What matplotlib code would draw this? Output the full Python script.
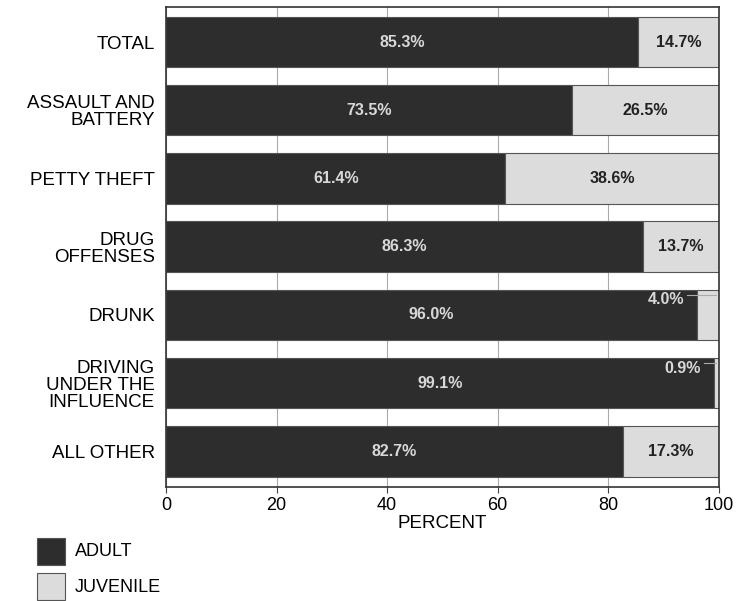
import matplotlib.pyplot as plt
import numpy as np

plt.rcParams['font.family'] = ['Liberation Sans', 'DejaVu Sans']

categories = ['TOTAL', 'ASSAULT AND\nBATTERY', 'PETTY THEFT', 'DRUG\nOFFENSES',
              'DRUNK', 'DRIVING\nUNDER THE\nINFLUENCE', 'ALL OTHER']
adult = [85.3, 73.5, 61.4, 86.3, 96.0, 99.1, 82.7]
juvenile = [14.7, 26.5, 38.6, 13.7, 4.0, 0.9, 17.3]
xticks = [0, 20, 40, 60, 80, 100]

dark = '#2d2d2d'
light = '#dcdcdc'

fig = plt.figure(figsize=(7.52, 6.01), dpi=100)
ax = fig.add_axes([0.2207, 0.190, 0.7353, 0.798])

y = np.arange(len(categories))
h = 0.74
ax.barh(y, adult, height=h, color=dark, edgecolor='#555555', linewidth=0.8, zorder=2)
ax.barh(y, juvenile, left=adult, height=h, color=light, edgecolor='#555555',
        linewidth=0.8, zorder=2)

for i, (a, j) in enumerate(zip(adult, juvenile)):
    ax.text(a / 2, i, f'{a:.1f}%', color='#d8d8d8', ha='center', va='center',
            fontsize=11.5, fontweight='bold', zorder=3)
    if j >= 10:
        ax.text(a + j / 2, i, f'{j:.1f}%', color='#222222', ha='center',
                va='center', fontsize=11.5, fontweight='bold', zorder=3)
    else:
        tx = a - 2.3
        ty = i - 0.22
        ax.text(tx, ty, f'{j:.1f}%', color='#d8d8d8', ha='right', va='center',
                fontsize=11.5, fontweight='bold', zorder=3)
        ax.plot([tx + 0.5, 99.5], [ty - 0.07, ty - 0.07], color='#aaaaaa',
                lw=0.8, zorder=3)

ax.set_xlim(0, 100)
ax.set_ylim(6.52, -0.51)
ax.set_yticks(y)
ax.set_yticklabels(categories, fontsize=13.5, linespacing=1.0)
ax.set_xticks(xticks)
ax.set_xticklabels([str(t) for t in xticks], fontsize=13)
ax.tick_params(axis='y', length=0, pad=8)
ax.tick_params(axis='x', length=4, color='#444444', pad=3)
ax.xaxis.grid(True, color='#aaaaaa', linewidth=0.8, zorder=0)
ax.set_axisbelow(True)
for s in ax.spines.values():
    s.set_color('#333333')
    s.set_linewidth(1.2)
ax.set_xlabel('PERCENT', fontsize=13.5, labelpad=1)

# legend
fig.patches.append(plt.Rectangle((37 / 752, 1 - 565 / 601), 28 / 752, 27 / 601,
                                 transform=fig.transFigure, facecolor=dark,
                                 edgecolor='#555555', lw=0.8))
fig.patches.append(plt.Rectangle((37 / 752, 1 - 600 / 601), 28 / 752, 27 / 601,
                                 transform=fig.transFigure, facecolor=light,
                                 edgecolor='#555555', lw=0.8))
fig.text(75 / 752, 1 - 552 / 601, 'ADULT', fontsize=13, va='center')
fig.text(75 / 752, 1 - 587 / 601, 'JUVENILE', fontsize=13, va='center')

fig.savefig('out.png', dpi=100)
